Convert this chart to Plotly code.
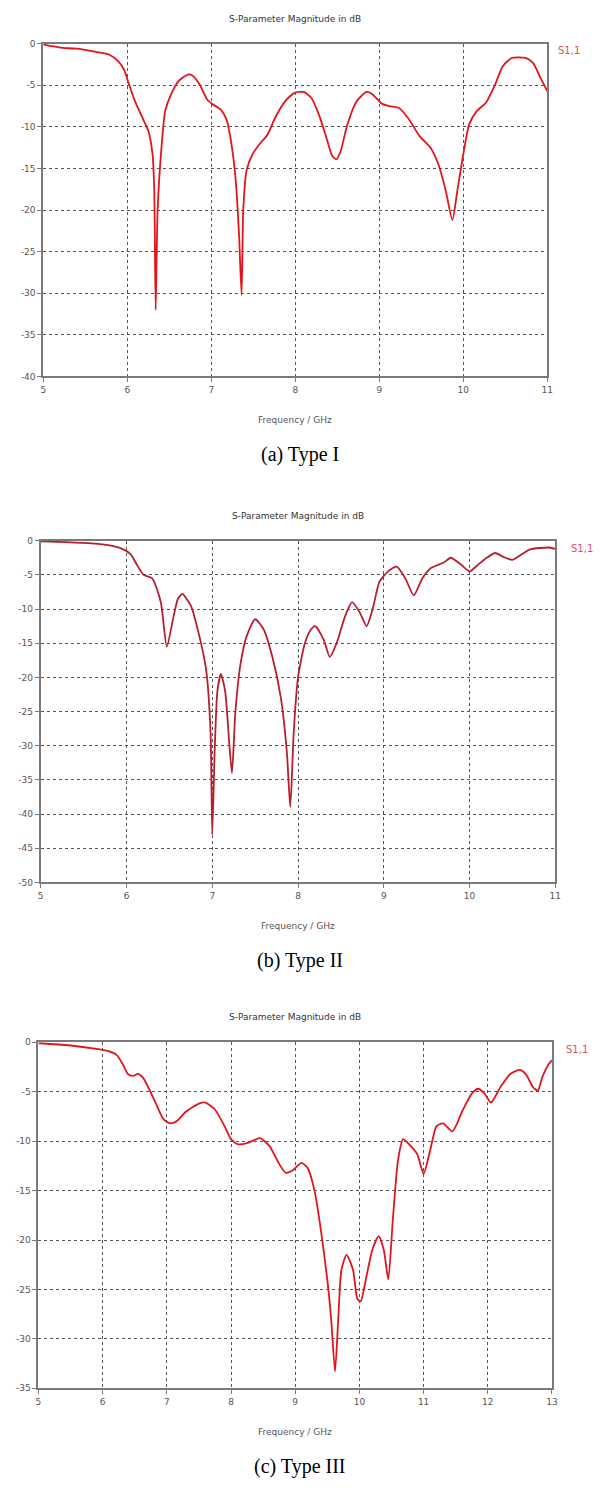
import plotly.graph_objects as go

W, H = 603, 1488

# ---- Type I : S1,1 (dB) vs frequency (GHz) ----
freq_a = [5.00, 5.10, 5.23, 5.40, 5.64, 5.78, 5.89, 5.96, 6.02, 6.09, 6.18, 6.25,
          6.30, 6.32, 6.337, 6.36, 6.41, 6.45, 6.52, 6.61, 6.72, 6.77, 6.86, 6.95,
          7.02, 7.11, 7.18, 7.24, 7.29, 7.33, 7.36, 7.38, 7.42, 7.49, 7.58, 7.67,
          7.76, 7.88, 7.99, 8.10, 8.19, 8.28, 8.37, 8.44, 8.49, 8.54, 8.62, 8.73,
          8.85, 8.91, 9.03, 9.12, 9.23, 9.34, 9.48, 9.61, 9.70, 9.79, 9.87, 9.93,
          10.00, 10.07, 10.16, 10.27, 10.38, 10.47, 10.58, 10.74, 10.83, 10.92, 11.00]
s11_a = [-0.1, -0.3, -0.5, -0.6, -1.0, -1.3, -2.1, -3.1, -4.9, -6.9, -8.9, -10.5,
         -13.3, -17.6, -32.0, -20.0, -12.0, -8.1, -6.1, -4.5, -3.7, -3.8, -4.9, -6.7,
         -7.3, -7.9, -9.1, -12.1, -16.4, -23.0, -30.2, -20.0, -15.2, -13.3, -12.0, -10.9,
         -8.9, -6.9, -5.9, -5.8, -6.5, -8.5, -11.3, -13.5, -13.9, -12.9, -9.7, -6.9,
         -5.8, -6.0, -7.2, -7.5, -7.7, -8.9, -11.1, -12.5, -14.4, -17.6, -21.2, -17.6,
         -13.3, -9.7, -8.1, -7.1, -4.9, -2.7, -1.7, -1.7, -2.3, -4.1, -5.7]

# ---- Type II ----
freq_b = [5.00, 5.30, 5.60, 5.80, 5.95, 6.05, 6.12, 6.20, 6.30, 6.40, 6.47, 6.55,
          6.60, 6.65, 6.75, 6.85, 6.93, 6.98, 7.00, 7.03, 7.06, 7.10, 7.15, 7.20,
          7.23, 7.27, 7.33, 7.40, 7.50, 7.60, 7.70, 7.80, 7.87, 7.91, 7.95, 8.00,
          8.08, 8.15, 8.20, 8.30, 8.37, 8.45, 8.55, 8.63, 8.72, 8.80, 8.87, 8.95,
          9.05, 9.15, 9.25, 9.35, 9.45, 9.55, 9.70, 9.78, 9.90, 10.00, 10.10, 10.20,
          10.30, 10.40, 10.50, 10.70, 10.93, 11.00]
s11_b = [-0.1, -0.2, -0.4, -0.7, -1.2, -2.0, -3.5, -5.0, -5.5, -9.0, -15.5, -11.0,
         -8.5, -7.8, -9.5, -14.0, -19.0, -28.0, -43.0, -30.0, -22.0, -19.5, -22.0, -30.0,
         -34.0, -25.0, -18.0, -14.0, -11.5, -13.0, -17.0, -23.0, -31.0, -39.0, -28.0, -20.0,
         -15.0, -13.0, -12.5, -14.5, -17.0, -15.0, -11.0, -9.0, -10.5, -12.5, -10.0, -6.0,
         -4.5, -3.8, -5.5, -8.0, -5.5, -4.0, -3.2, -2.5, -3.5, -4.5, -3.5, -2.5,
         -1.8, -2.4, -2.8, -1.3, -1.0, -1.2]

# ---- Type III ----
freq_c = [5.00, 5.47, 5.93, 6.09, 6.22, 6.32, 6.39, 6.47, 6.55, 6.63, 6.73, 6.85,
          6.95, 7.05, 7.15, 7.30, 7.50, 7.60, 7.75, 7.90, 8.00, 8.10, 8.25, 8.45,
          8.60, 8.75, 8.85, 8.95, 9.10, 9.20, 9.30, 9.40, 9.50, 9.56, 9.62, 9.67,
          9.72, 9.80, 9.90, 9.97, 10.02, 10.10, 10.20, 10.30, 10.38, 10.45, 10.52, 10.60,
          10.68, 10.80, 10.90, 11.00, 11.10, 11.20, 11.30, 11.45, 11.60, 11.75, 11.85, 11.95,
          12.05, 12.20, 12.35, 12.50, 12.60, 12.70, 12.78, 12.85, 12.95, 13.00]
s11_c = [-0.1, -0.3, -0.7, -0.9, -1.3, -2.3, -3.2, -3.4, -3.2, -3.6, -4.8, -6.5,
         -7.8, -8.2, -8.0, -7.0, -6.2, -6.1, -6.8, -8.5, -9.8, -10.3, -10.2, -9.7,
         -10.5, -12.3, -13.2, -13.0, -12.2, -12.8, -15.0, -19.0, -24.0, -28.0, -33.3, -28.0,
         -23.0, -21.5, -23.0, -26.0, -26.2, -24.0, -21.0, -19.6, -21.0, -24.0, -18.0, -12.0,
         -9.8, -10.5, -11.3, -13.3, -11.0, -8.5, -8.2, -9.0, -7.0, -5.2, -4.7, -5.2,
         -6.1, -4.5, -3.2, -2.8, -3.3, -4.5, -4.9, -3.5, -2.2, -1.8]

x_ticks_ab = [5, 6, 7, 8, 9, 10, 11]
x_ticks_c = [5, 6, 7, 8, 9, 10, 11, 12, 13]
y_ticks_a = [0, -5, -10, -15, -20, -25, -30, -35, -40]
y_ticks_b = [0, -5, -10, -15, -20, -25, -30, -35, -40, -45, -50]
y_ticks_c = [0, -5, -10, -15, -20, -25, -30, -35]

captions = ["(a) Type I", "(b) Type II", "(c) Type III"]
chart_title = "S-Parameter Magnitude in dB"
x_title = "Frequency / GHz"
trace_name = "S1,1"

# panel frames in pixels: (left, right, top, bottom)
frames = [(41.0, 552.5, 39.0, 374.0),
          (38.3, 560.7, 539.3, 883.3),
          (36.0, 557.3, 1044.3, 1392.7)]
line_colors = ["#e3141c", "#b81f2e", "#e3141c"]
legend_pos = [(575, 46), (588, 547), (583, 1052)]

series = [(freq_a, s11_a, x_ticks_ab, y_ticks_a),
          (freq_b, s11_b, x_ticks_ab, y_ticks_b),
          (freq_c, s11_c, x_ticks_c, y_ticks_c)]

AX_FONT = dict(family="DejaVu Sans", size=9, color="#555555")


def px_x(p):
    return p / W


def px_y(p):
    return 1 - p / H


fig = go.Figure()
annotations = []
layout = {}

for i, ((fx, fy, xt, yt), (l, r, t, b)) in enumerate(zip(series, frames)):
    n = "" if i == 0 else str(i + 1)
    fig.add_trace(go.Scatter(x=fx, y=fy, mode="lines", name=trace_name,
                             line=dict(color=line_colors[i], width=1.8,
                                       shape="spline", smoothing=0.6),
                             xaxis="x" + n, yaxis="y" + n, showlegend=False))
    layout["xaxis" + n] = dict(
        domain=[px_x(l), px_x(r)], anchor="y" + n,
        range=[xt[0], xt[-1]], tickvals=xt, ticktext=[str(v) for v in xt],
        showgrid=True, gridcolor="#555555", griddash="dot", gridwidth=1,
        showline=True, linecolor="#7a7a7a", linewidth=2, mirror=True,
        ticks="outside", ticklen=4, tickcolor="#7a7a7a",
        tickfont=AX_FONT, zeroline=False, fixedrange=True)
    layout["yaxis" + n] = dict(
        domain=[px_y(b), px_y(t)], anchor="x" + n,
        range=[yt[-1], yt[0]], tickvals=yt, ticktext=[str(v) for v in yt],
        showgrid=True, gridcolor="#555555", griddash="dot", gridwidth=1,
        showline=True, linecolor="#7a7a7a", linewidth=2, mirror=True,
        ticks="outside", ticklen=4, tickcolor="#7a7a7a",
        tickfont=AX_FONT, zeroline=False, fixedrange=True)

    cx = (l + r) / 2
    annotations.append(dict(x=px_x(cx), y=px_y(t - 25), xref="paper", yref="paper",
                            text=chart_title, showarrow=False,
                            font=dict(family="DejaVu Sans", size=9, color="#333333"),
                            xanchor="center", yanchor="middle"))
    annotations.append(dict(x=px_x(cx), y=px_y(b + 44), xref="paper", yref="paper",
                            text=x_title, showarrow=False,
                            font=dict(family="DejaVu Sans", size=9, color="#555555"),
                            xanchor="center", yanchor="middle"))
    annotations.append(dict(x=px_x(301.5), y=px_y(b + 79), xref="paper", yref="paper",
                            text=captions[i], showarrow=False,
                            font=dict(family="Liberation Serif", size=20, color="#000000"),
                            xanchor="center", yanchor="middle"))
    lx, ly = legend_pos[i]
    annotations.append(dict(x=px_x(lx), y=px_y(ly), xref="paper", yref="paper",
                            text=trace_name, showarrow=False,
                            font=dict(family="DejaVu Sans", size=10, color="#e0505c"),
                            xanchor="center", yanchor="middle"))

fig.update_layout(width=W, height=H, margin=dict(l=0, r=0, t=0, b=0),
                  paper_bgcolor="white", plot_bgcolor="white",
                  annotations=annotations, **layout)

fig.write_html("out.html", config={"displayModeBar": False})
